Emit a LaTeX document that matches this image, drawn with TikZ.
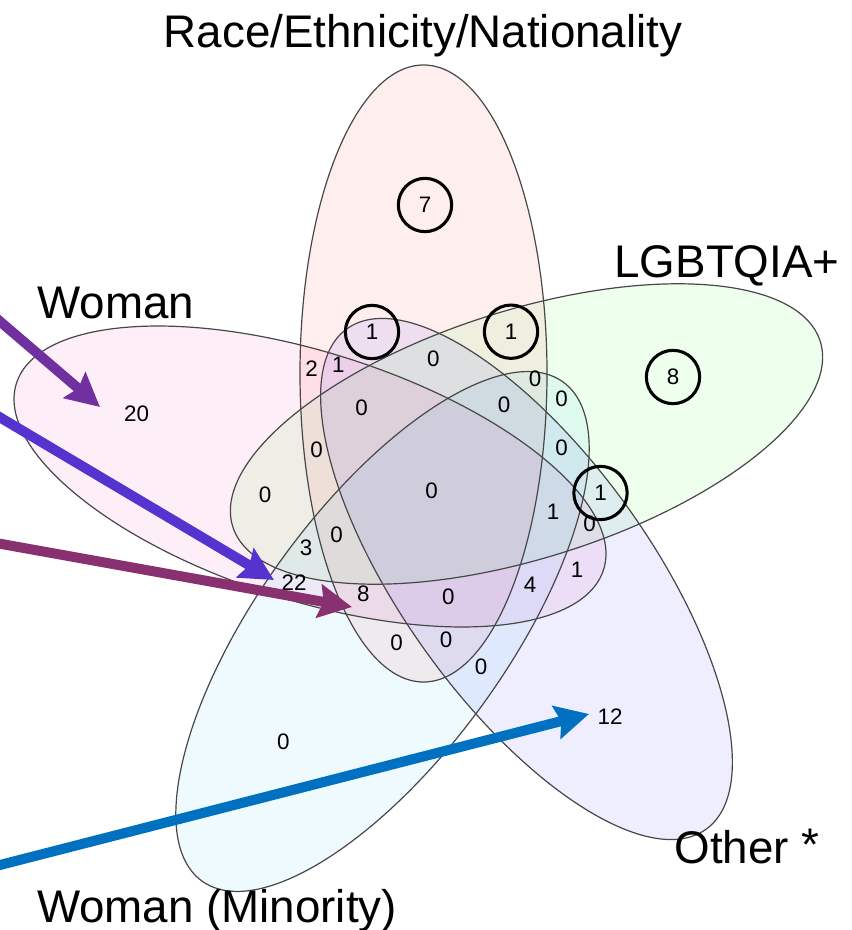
\documentclass[tikz,border=0pt]{standalone}
\usepackage{fontspec}
\setmainfont{Liberation Sans}
\usetikzlibrary{arrows.meta}
\definecolor{arrPurple}{RGB}{112,48,160}
\definecolor{arrViolet}{RGB}{85,51,206}
\definecolor{arrMaroon}{RGB}{136,48,112}
\definecolor{arrBlue}{RGB}{0,112,192}
\begin{document}
\begin{tikzpicture}[x=0.75pt,y=-0.75pt,
  setfill/.style={fill opacity=0.065},
  outline/.style={draw=black!72, line width=0.9pt},
  num/.style={font=\fontsize{16.8}{18}\selectfont, inner sep=0pt},
  ringed/.style={num, circle, draw=black, line width=2.3pt, minimum size=40pt},
  lbl/.style={font=\fontsize{34.3}{38}\selectfont, inner sep=0pt, anchor=base},
  bigarrow/.style={line width=7.5pt, -{Stealth[length=25pt,width=25pt,inset=3.5pt]}}
]
\useasboundingbox (0,0) rectangle (851,930);
\clip (0,0) rectangle (851,930);

% set fills
\foreach \cx/\cy/\ang/\rx/\ry/\col in {
  423.5/373.5/0/123.5/308.5/red,
  526.5/434/17.5/308/124/green,
  310/476.5/-17.6/308/124/magenta,
  382.5/631.5/54.1/308/124/cyan,
  526.5/579/-54.35/308/124/blue}{
  \path[setfill, fill=\col, rotate around={\ang:(\cx,\cy)}] (\cx,\cy) ellipse [x radius=\rx, y radius=\ry];
}
% set outlines
\foreach \cx/\cy/\ang/\rx/\ry in {
  423.5/373.5/0/123.5/308.5,
  526.5/434/17.5/308/124,
  310/476.5/-17.6/308/124,
  382.5/631.5/54.1/308/124,
  526.5/579/-54.35/308/124}{
  \path[outline, rotate around={\ang:(\cx,\cy)}] (\cx,\cy) ellipse [x radius=\rx, y radius=\ry];
}

% set labels
\node[lbl] (lRace) at (423,48) {Race/Ethnicity/Nationality};
\node[lbl] (lLgbt) at (727,277) {LGBTQIA+};
\node[lbl] (lWoman) at (116,318) {Woman};
\node[lbl] (lOther) at (747,863) {Other \raisebox{2pt}{*}};
\node[lbl] (lMin) at (217,922) {Woman (Minority)};

% circled counts
\node[ringed] (c7) at (425,205) {7};
\node[ringed] (c1a) at (372,332) {1};
\node[ringed] (c1b) at (511,331.7) {1};
\node[ringed] (c8) at (673,377) {8};
\node[ringed] (c1c) at (600.5,493) {1};

% other counts
\node[num] (n20) at (136.7,413.3) {20};
\node[num] (n2) at (311.7,368.3) {2};
\node[num] (n1a) at (338.3,365) {1};
\node[num] (n0a) at (433.3,358.3) {0};
\node[num] (n0b) at (535,378.5) {0};
\node[num] (n0c) at (561.5,399.2) {0};
\node[num] (n0d) at (361.7,407.3) {0};
\node[num] (n0e) at (504,405) {0};
\node[num] (n0f) at (316.7,450) {0};
\node[num] (n0g) at (561.5,447.5) {0};
\node[num] (n0h) at (431.7,491) {0};
\node[num] (n0i) at (265,495) {0};
\node[num] (n1b) at (553,512) {1};
\node[num] (n0j) at (589.7,523.3) {0};
\node[num] (n3) at (306,547.3) {3};
\node[num] (n0k) at (336.7,535) {0};
\node[num] (n1c) at (577,569.7) {1};
\node[num] (n22) at (294,582.7) {22};
\node[num] (n8) at (363.3,593.3) {8};
\node[num] (n0l) at (448.3,596.7) {0};
\node[num] (n4) at (530,585) {4};
\node[num] (n0m) at (396.7,642.7) {0};
\node[num] (n0n) at (446,640) {0};
\node[num] (n0o) at (481,666.7) {0};
\node[num] (n0p) at (283.3,741.7) {0};
\node[num] (n12) at (610,716.7) {12};

% arrows
\coordinate (tailP) at (-4,318);
\coordinate (tipP) at (100,407);
\coordinate (tailV) at (-4,415);
\coordinate (tipV) at (274,580);
\coordinate (tailM) at (-4,543);
\coordinate (tipM) at (352,607);
\coordinate (tailB) at (-4,866);
\coordinate (tipB) at (589,714);
\draw[bigarrow, arrPurple] (tailP) -- (tipP);
\draw[bigarrow, arrViolet] (tailV) -- (tipV);
\draw[bigarrow, arrMaroon] (tailM) -- (tipM);
\draw[bigarrow, arrBlue] (tailB) -- (tipB);
\end{tikzpicture}
\end{document}
